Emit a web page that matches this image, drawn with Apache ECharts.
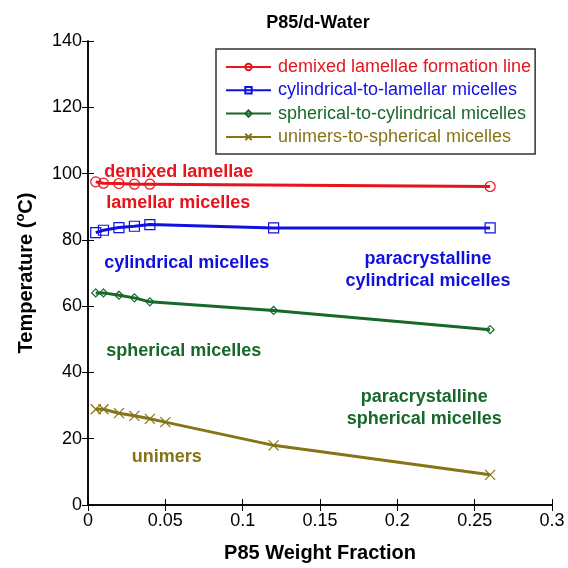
<!DOCTYPE html>
<html>
<head>
<meta charset="utf-8">
<script src="https://cdn.jsdelivr.net/npm/echarts@6/dist/echarts.min.js"></script>
<style>
html, body { margin: 0; padding: 0; background: #fff; }
#chart { width: 568px; height: 568px; }
</style>
</head>
<body>
<div id="chart"></div>
<script>
var FONT = 'Liberation Sans, Arial, Helvetica, sans-serif';

// series data (P85 weight fraction, temperature in C)
var demixedX = [0.005, 0.01, 0.02, 0.03, 0.04, 0.26];
var demixedY = [97.5, 97.1, 97.0, 96.8, 96.8, 96.1];

var cylLamX = [0.005, 0.01, 0.02, 0.03, 0.04, 0.12, 0.26];
var cylLamY = [82.2, 82.9, 83.7, 84.1, 84.6, 83.6, 83.6];

var sphCylX = [0.005, 0.01, 0.02, 0.03, 0.04, 0.12, 0.26];
var sphCylY = [64.0, 64.0, 63.3, 62.5, 61.3, 58.7, 52.9];

var uniSphX = [0.005, 0.01, 0.02, 0.03, 0.04, 0.05, 0.12, 0.26];
var uniSphY = [28.9, 28.9, 27.7, 26.9, 26.0, 25.0, 18.0, 9.1];

var seriesNames = [
    'demixed lamellae formation line',
    'cylindrical-to-lamellar micelles',
    'spherical-to-cylindrical micelles',
    'unimers-to-spherical micelles'
];
var seriesColors = ['#e8141c', '#1010e0', '#17692a', '#857518'];

// region labels
var annoText = ['demixed lamellae', 'lamellar micelles', 'cylindrical micelles',
    'paracrystalline\ncylindrical micelles', 'spherical micelles',
    'paracrystalline\nspherical micelles', 'unimers'];
var annoX = [0.0105, 0.0118, 0.0105, 0.2198, 0.0118, 0.2174, 0.0283];
var annoY = [100.6, 91.2, 73.1, 70.8, 46.6, 29.3, 14.6];
var annoColorIdx = [0, 0, 1, 1, 2, 2, 3];
var annoAlign = ['left', 'left', 'left', 'center', 'left', 'center', 'left'];

function pairs(xs, ys) {
    var out = [];
    for (var i = 0; i < xs.length; i++) out.push([xs[i], ys[i]]);
    return out;
}

var myChart = echarts.init(document.getElementById('chart'));

// open markers: circle, square, diamond, x
var symbols = [
    'path://M0,5A5,5,0,1,1,10,5A5,5,0,1,1,0,5Z',
    'path://M0,0L10,0L10,10L0,10Z',
    'path://M5,0L10,5L5,10L0,5Z',
    'path://M0,0L10,10M10,0L0,10'
];
var symbolSizes = [10, 10, 8, 10];
var datasets = [pairs(demixedX, demixedY), pairs(cylLamX, cylLamY), pairs(sphCylX, sphCylY), pairs(uniSphX, uniSphY)];

var series = [];
for (var i = 0; i < 4; i++) {
    series.push({
        name: seriesNames[i],
        type: 'line',
        data: datasets[i],
        smooth: false,
        symbol: symbols[i],
        symbolSize: symbolSizes[i],
        showAllSymbol: true,
        lineStyle: { color: seriesColors[i], width: 3 },
        itemStyle: {
            color: 'none',
            borderColor: seriesColors[i],
            borderWidth: 1.2
        },
        z: 3
    });
}

var annoData = [];
for (var j = 0; j < annoText.length; j++) {
    annoData.push({
        value: [annoX[j], annoY[j]],
        name: annoText[j],
        label: {
            color: seriesColors[annoColorIdx[j]],
            align: annoAlign[j]
        }
    });
}
series.push({
    name: 'notes',
    type: 'scatter',
    symbolSize: 0,
    silent: true,
    data: annoData,
    itemStyle: { opacity: 1 },
    label: {
        show: true,
        position: 'inside',
        formatter: function (p) { return p.name; },
        fontFamily: FONT,
        fontWeight: 'bold',
        fontSize: 18,
        lineHeight: 22,
        verticalAlign: 'middle',
        textBorderWidth: 0,
        opacity: 1
    },
    z: 4
});

var legendData = [];
for (var k = 0; k < 4; k++) {
    legendData.push({ name: seriesNames[k], textStyle: { color: seriesColors[k] } });
}

var option = {
    backgroundColor: '#fff',
    animation: false,
    title: {
        text: 'P85/d-Water',
        left: 313,
        textAlign: 'center',
        top: 9,
        textStyle: { fontFamily: FONT, fontWeight: 'bold', fontSize: 18, color: '#000' }
    },
    legend: {
        data: legendData,
        orient: 'vertical',
        left: 216,
        top: 49,
        padding: [8, 4, 7, 9],
        itemGap: 3.3,
        itemWidth: 45,
        itemHeight: 8,
        borderColor: '#333',
        borderWidth: 1.5,
        backgroundColor: '#fff',
        textStyle: { fontFamily: FONT, fontSize: 18, lineHeight: 20, padding: [0, 0, 0, 2] }
    },
    grid: { left: 88, right: 16, top: 41, bottom: 63, outerBoundsMode: 'none' },
    xAxis: [{
        type: 'value',
        min: 0, max: 0.3, interval: 0.05,
        name: 'P85 Weight Fraction',
        nameLocation: 'middle',
        nameGap: 38,
        nameTextStyle: { fontFamily: FONT, fontWeight: 'bold', fontSize: 20, color: '#000' },
        axisLine: { show: true, onZero: false, lineStyle: { color: '#000', width: 1.5 } },
        axisTick: { show: true, inside: true, length: 6, lineStyle: { color: '#000' } },
        axisLabel: { fontFamily: FONT, fontSize: 18, color: '#000', margin: 7 },
        splitLine: { show: false }
    }, {
        type: 'value',
        position: 'top',
        min: 0, max: 0.3, interval: 0.05,
        axisLine: { show: true, lineStyle: { color: '#000', width: 1.5 } },
        axisTick: { show: true, inside: true, length: 6, lineStyle: { color: '#000' } },
        axisLabel: { show: false },
        splitLine: { show: false }
    }],
    yAxis: [{
        type: 'value',
        min: 0, max: 140, interval: 20,
        name: 'Temperature ({sup|o}C)',
        nameLocation: 'middle',
        nameGap: 50,
        nameTextStyle: {
            fontFamily: FONT, fontWeight: 'bold', fontSize: 20, color: '#000', lineHeight: 24,
            rich: {
                sup: { fontFamily: FONT, fontWeight: 'bold', fontSize: 13, color: '#000', verticalAlign: 'top', lineHeight: 24, padding: [0, 0, 8, 0] }
            }
        },
        axisLine: { show: true, onZero: false, lineStyle: { color: '#000', width: 1.5 } },
        axisTick: { show: true, inside: true, length: 6, lineStyle: { color: '#000' } },
        axisLabel: { fontFamily: FONT, fontSize: 18, color: '#000', margin: 6 },
        splitLine: { show: false }
    }, {
        type: 'value',
        position: 'right',
        min: 0, max: 140, interval: 20,
        axisLine: { show: true, lineStyle: { color: '#000', width: 1.5 } },
        axisTick: { show: true, inside: true, length: 6, lineStyle: { color: '#000' } },
        axisLabel: { show: false },
        splitLine: { show: false }
    }],
    series: series
};

myChart.setOption(option, true);
</script>
</body>
</html>
